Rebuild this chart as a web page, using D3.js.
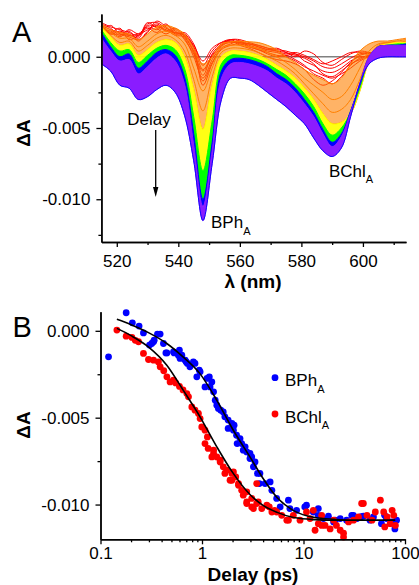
<!DOCTYPE html>
<html>
<head>
<meta charset="utf-8">
<script src="https://d3js.org/d3.v7.min.js"></script>
<style>
  body { margin: 0; background: #fff; }
  text { font-family: "Liberation Sans", Arial, Helvetica, sans-serif; }
</style>
</head>
<body>
<script>
/* ***************************************************************** */
/* DATA ************************************************************ */
// panel A : transient spectra, values in mOD (x 1e-3 dA)
var lambda = [515,518,521,524,527,530,533,536,539,542,545,548,551,554,557,560,563,
              566,569,572,575,578,581,584,587,590,593,596,599,602,605,608,611,614];

// early delays : individual red traces
var redTraces = [
  [2.0,1.6,1.8,1.5,1.4,2.4,2.0,1.6,1.9,1.2,0.2,-1.0,0.0,0.8,1.0,1.0,0.8,0.6,0.4,0.3,0.1,0.2,-0.3,-0.6,-1.0,-1.1,-0.8,-0.3,0.0,0.0,0.2,0.1,0.2,0.3],
  [2.3,2.0,1.5,1.9,1.6,1.9,2.3,1.8,1.7,1.5,0.6,-2.0,-0.5,0.6,0.9,1.1,0.7,0.5,0.2,0.0,0.1,-0.2,-0.6,-1.2,-1.5,-1.9,-1.4,-0.6,-0.1,0.1,0.3,0.2,0.1,0.2],
  [1.8,2.2,1.6,1.4,1.2,1.7,2.5,2.1,1.6,1.7,0.9,-0.6,0.4,1.0,1.2,0.9,0.9,0.7,0.5,0.4,0.3,0.0,0.4,0.2,-0.4,-0.6,-0.2,0.2,0.4,0.3,0.1,0.4,0.3,0.1],
  [2.1,1.7,2.0,1.2,1.5,2.0,1.7,2.2,1.8,1.3,0.0,-1.5,-0.2,0.7,1.1,0.8,0.6,0.3,0.0,-0.2,-0.3,-0.5,-0.9,-1.6,-2.0,-1.7,-1.1,-0.4,0.1,0.2,0.0,0.2,0.3,0.2],
  [2.2,1.9,1.7,1.6,1.3,2.2,2.1,1.9,1.5,1.4,0.4,-1.3,0.2,0.9,1.2,1.2,1.0,0.8,0.6,0.5,0.4,0.2,0.0,-0.3,-0.7,-0.8,-0.5,-0.1,0.2,0.3,0.2,0.3,0.2,0.1],
  [2.4,2.1,1.9,1.7,1.5,2.3,2.4,2.0,1.7,1.5,0.8,-0.3,0.6,1.0,1.1,1.0,0.9,0.7,0.5,0.6,0.3,0.1,-0.1,-0.5,-1.2,-1.4,-1.0,-0.5,-0.2,0.1,0.2,0.3,0.1,0.2],
  [1.9,1.8,1.4,1.8,1.1,1.8,2.2,1.8,2.0,1.4,0.3,-1.7,-0.4,0.5,0.8,0.9,0.7,0.5,0.3,0.1,0.0,-0.3,-0.7,-1.0,-1.3,-1.5,-1.2,-0.8,-0.3,0.0,0.1,0.2,0.3,0.3],
  [2.2,1.6,1.6,1.5,1.6,2.1,1.9,2.3,1.6,1.6,0.7,-0.9,0.1,0.8,1.2,1.1,0.9,0.8,0.6,0.4,0.2,0.3,0.1,-0.2,-0.5,-0.3,0.0,0.3,0.3,0.2,0.3,0.1,0.2,0.2]
];

// orange traces visible inside the bleach dips
var orangeTraces = [
  [2.2,1.7,1.3,1.3,0.7,1.1,1.6,1.8,1.5,0.9,-0.8,-2.4,-0.8,0.6,0.8,0.8,0.7,0.6,0.3,0.0,-0.4,-0.9,-1.5,-2.0,-2.5,-3.0,-2.8,-2.0,-0.8,0.4,0.9,1.0,1.1,1.2],
  [2.1,1.5,1.0,1.1,0.4,0.8,1.3,1.5,1.2,0.4,-1.6,-3.8,-1.4,0.3,0.6,0.6,0.5,0.3,0.0,-0.3,-0.7,-1.2,-1.9,-2.6,-3.3,-3.9,-3.7,-3.0,-1.6,0.0,0.8,1.0,1.0,1.1]
];

// later delays : envelopes of the colour bundles (band edges)
var orangeTop = [2.3,1.9,1.7,1.6,1.2,1.6,2.1,2.2,2.0,1.6,0.6,-0.5,0.0,0.9,1.05,1.1,1.05,1.0,0.8,0.5,0.0,-0.4,-0.9,-1.3,-1.6,-1.9,-1.5,-0.5,0.4,0.9,1.1,1.1,1.2,1.3];
var orangeBot = [2.1,1.4,0.8,0.9,0.1,0.5,1.0,1.2,1.0,0.0,-2.3,-5.1,-2.0,0.0,0.4,0.4,0.3,0.1,-0.2,-0.6,-1.0,-1.5,-2.2,-3.0,-4.0,-4.7,-4.6,-4.0,-2.4,-0.3,0.7,0.9,1.0,1.0];
var yellowBot = [1.9,1.0,0.4,0.5,-0.4,0.1,0.6,0.8,0.5,-0.8,-4.2,-8.0,-4.5,-0.5,0.1,0.1,0.0,-0.2,-0.5,-0.9,-1.3,-1.9,-2.6,-3.5,-4.7,-5.5,-5.0,-3.9,-2.2,-0.2,0.7,0.8,0.9,0.9];
var greenBot  = [1.7,0.7,0.0,0.2,-0.8,-0.3,0.3,0.5,0.1,-1.4,-5.4,-10.0,-6.0,-1.0,-0.2,-0.1,-0.2,-0.4,-0.7,-1.2,-1.6,-2.2,-3.0,-3.9,-5.1,-6.0,-5.4,-3.8,-2.0,-0.1,0.7,0.8,0.8,0.9];
var blueBot   = [1.3,0.4,-0.3,-0.2,-1.2,-0.7,-0.1,0.2,-0.3,-1.9,-6.2,-10.5,-6.6,-1.5,-0.5,-0.4,-0.5,-0.7,-1.0,-1.5,-1.9,-2.5,-3.3,-4.2,-5.4,-6.3,-5.6,-3.9,-1.9,0.0,0.7,0.8,0.8,0.8];
var violetBot = [-0.5,-1.0,-2.0,-2.2,-3.0,-2.8,-2.3,-2.0,-2.5,-4.1,-7.3,-11.5,-7.5,-3.0,-1.5,-1.5,-1.6,-2.0,-2.5,-3.0,-3.5,-4.1,-4.7,-5.7,-6.6,-7.0,-6.4,-4.2,-1.9,-0.5,-0.1,0.0,0.0,0.0];

var xTicksA = [520,540,560,580,600],  xMinorA = [530,550,570,590,610];
var yTicksA = [0,-0.005,-0.010],      yMinorA = [0.0025,-0.0025,-0.0075,-0.0125];

// panel B : kinetics, delay (ps) / dA (mOD)
var bphDelay = [0.120,0.179,0.206,0.240,0.265,0.304,0.320,0.333,0.338,0.364,0.387,0.417,0.441,0.451,0.524,0.531,0.585,0.599,0.608,0.633,
  0.682,0.700,0.719,0.760,0.822,0.853,0.889,0.940,0.958,1.07,1.12,1.18,1.20,1.25,1.30,1.35,1.40,1.45,1.53,1.62,
  1.68,1.81,1.81,1.97,2.04,2.07,2.19,2.22,2.37,2.46,2.55,2.66,2.76,2.97,2.97,3.09,3.21,3.33,3.52,3.67,
  3.72,4.18,4.69,4.88,5.44,5.89,7.10,7.34,8.55,10.3,10.7,12.5,14.0,14.0,15.7,17.6,19.8,20.5,23.0,26.6,
  29.9,31.0,33.6,37.0,38.9,45.2,48.9,58.6,63.0,65.7,73.7,79.5,79.5,82.6];
var bphDA = [-1.50,1.04,0.46,0.27,-0.12,-0.82,-0.73,-0.63,-0.54,-0.19,-0.19,-0.73,-1.27,-1.27,-1.21,-1.27,-1.40,-1.11,-1.59,-1.40,
  -1.69,-1.79,-1.88,-2.07,-1.79,-1.88,-2.65,-2.26,-2.36,-3.23,-2.74,-2.65,-3.23,-2.94,-3.51,-3.99,-4.28,-4.47,-4.57,-4.67,
  -4.95,-5.14,-5.62,-5.33,-5.72,-5.43,-6.01,-6.49,-6.20,-6.49,-6.87,-6.68,-6.97,-7.06,-7.35,-7.26,-7.83,-7.55,-8.21,-8.79,
  -8.21,-8.79,-8.70,-9.18,-9.65,-10.14,-9.75,-10.23,-10.33,-10.14,-10.04,-10.43,-10.23,-10.62,-10.81,-10.67,-11.0,-10.9,-10.81,-10.9,
  -10.62,-10.62,-10.81,-10.7,-10.67,-10.9,-10.71,-11.1,-10.62,-10.81,-11.0,-11.2,-11.4,-10.9];

var bchlDelay = [0.145,0.179,0.204,0.220,0.237,0.265,0.297,0.333,0.372,0.387,0.420,0.451,0.485,0.524,0.550,0.600,0.650,0.709,0.736,0.794,
  0.853,0.922,0.958,0.995,1.07,1.07,1.13,1.15,1.25,1.30,1.30,1.40,1.51,1.51,1.62,1.68,1.75,1.89,1.97,1.97,
  2.04,2.15,2.29,2.29,2.46,2.55,2.76,2.76,2.76,3.09,3.09,3.21,3.46,3.46,3.58,3.88,4.35,4.60,4.88,5.20,
  5.44,6.10,6.85,7.10,7.94,9.24,10.7,11.6,12.5,13.0,14.0,15.1,15.1,16.3,18.3,19.8,21.1,23.0,24.8,24.8,
  27.8,31.1,34.8,37.4,38.9,42.2,47.3,51.0,57.2,61.7,63.2,66.7,71.3,74.7,77.5,80.4];
var bchlDA = [0.04,-0.31,-0.38,-0.55,-0.63,-1.30,-1.65,-1.69,-1.79,-2.07,-2.30,-2.65,-2.94,-2.84,-3.00,-3.20,-3.40,-3.61,-3.80,-4.38,
  -4.57,-4.76,-5.05,-5.53,-5.72,-6.49,-6.11,-6.77,-7.26,-6.87,-7.06,-7.26,-7.45,-7.55,-7.83,-8.21,-8.02,-8.60,-8.21,-8.60,
  -8.12,-8.41,-8.79,-8.89,-9.18,-9.46,-9.27,-9.94,-9.85,-9.65,-10.14,-10.23,-8.79,-9.94,-9.85,-10.23,-10.04,-10.14,-10.43,-10.33,
  -10.43,-10.62,-10.9,-10.9,-10.62,-10.9,-10.43,-10.81,-10.33,-11.48,-11.1,-10.62,-11.2,-11.2,-11.4,-10.9,-11.2,-11.48,-11.87,-11.65,
  -11.0,-10.9,-10.71,-9.94,-9.94,-10.62,-10.9,-10.43,-9.75,-10.43,-11.29,-10.71,-11.1,-10.33,-10.62,-11.2];

// fitted curves
var fitDelay = [0.145,0.2,0.3,0.45,0.65,0.95,1.4,2.0,3.0,4.0,5.5,8,13,20,30,50,80];
var bphFit   = [0.66,0.35,-0.12,-0.73,-1.50,-2.45,-4.0,-5.65,-7.3,-8.5,-9.6,-10.35,-10.75,-10.85,-10.9,-10.9,-10.9];
var bchlFit  = [0.14,-0.28,-0.95,-1.98,-3.40,-4.92,-6.68,-8.15,-9.45,-10.05,-10.45,-10.75,-10.87,-10.9,-10.9,-10.9,-10.9];

var xTicksB = [0.1,1,10,100];
var xMinorB = [0.2,0.3,0.4,0.5,0.6,0.7,0.8,0.9,2,3,4,5,6,7,8,9,20,30,40,50,60,70,80,90];
var yTicksB = [0,-0.005,-0.010],  yMinorB = [-0.0025,-0.0075];

/* ***************************************************************** */
/* SVG INIT ******************************************************** */
var svg = d3.select("body").append("svg")
    .attr("width", 419)
    .attr("height", 585);

var FONT = '"Liberation Sans", Arial, Helvetica, sans-serif';
var fmt3 = function(d){ return d3.format(".3f")(d).replace("\u2212","-"); };

function styleAxis(g){
  g.attr("font-size", 17).attr("font-family", FONT);
  g.selectAll("path.domain").attr("stroke-width", 1.4).attr("stroke", "#000");
  g.selectAll(".tick line").attr("stroke-width", 1.3).attr("stroke", "#000");
  g.selectAll(".tick text").attr("fill", "#000");
}

/* ***************************************************************** */
/* PANEL A ********************************************************* */
var xA = d3.scaleLinear().domain([515, 614]).range([101.4, 406]);
var yA = d3.scaleLinear().domain([-0.013, 0.003]).range([242, 14]);
var gA = svg.append("g");

gA.append("line")
    .attr("x1", xA(515)).attr("x2", xA(614))
    .attr("y1", yA(0)).attr("y2", yA(0))
    .attr("stroke", "#808080").attr("stroke-width", 1.3);

var curveA = d3.curveCatmullRom.alpha(0.5);
var lineA = d3.line()
    .x(function(d,i){ return xA(lambda[i]); })
    .y(function(d){ return yA(d*1e-3); })
    .curve(curveA);
var areaA = d3.area()
    .x(function(d,i){ return xA(lambda[i]); })
    .y0(function(d){ return yA(d[1]*1e-3); })
    .y1(function(d){ return yA(d[0]*1e-3); })
    .curve(curveA);

gA.selectAll("path.red").data(redTraces).enter().append("path")
    .attr("class", "red")
    .attr("d", lineA)
    .attr("fill", "none").attr("stroke", "#ff0000").attr("stroke-width", 1);

var bands = [
  {c: "#ff8000", op: 0.6,  top: orangeTop, bot: orangeBot},
  {c: "#ffff00", op: 0.92, top: orangeBot, bot: yellowBot},
  {c: "#00ff00", op: 1,    top: yellowBot, bot: greenBot},
  {c: "#0000ff", op: 1,    top: greenBot,  bot: blueBot},
  {c: "#8a1cff", op: 1,    top: blueBot,   bot: violetBot}
];
bands.forEach(function(b, k){
  gA.append("path")
    .attr("d", areaA(d3.zip(b.top, b.bot)))
    .attr("fill", b.c).attr("fill-opacity", b.op).attr("stroke", "none");
  [b.top, b.bot].forEach(function(edge){
    gA.append("path").attr("d", lineA(edge))
      .attr("fill", "none").attr("stroke", b.c).attr("stroke-width", 1);
  });
  if (k === 0) {
    gA.selectAll("path.orange").data(orangeTraces).enter().append("path")
      .attr("class", "orange")
      .attr("d", lineA)
      .attr("fill", "none").attr("stroke", b.c).attr("stroke-width", 1);
  }
});
gA.append("path")
    .attr("d", lineA(violetBot))
    .attr("fill", "none").attr("stroke", "#0000ff").attr("stroke-width", 0.9);

// axes
gA.append("g").attr("transform", "translate(0,242)")
    .call(d3.axisBottom(xA).tickValues(xMinorA).tickSize(3).tickSizeOuter(0).tickFormat(""))
    .call(styleAxis);
gA.append("g").attr("transform", "translate(0,242)")
    .call(d3.axisBottom(xA).tickValues(xTicksA).tickSize(5).tickSizeOuter(0).tickPadding(8).tickFormat(d3.format("d")))
    .call(styleAxis);
gA.append("g").attr("transform", "translate(" + xA(515) + ",0)")
    .call(d3.axisLeft(yA).tickValues(yMinorA).tickSize(3).tickSizeOuter(0).tickFormat(""))
    .call(styleAxis);
gA.append("g").attr("transform", "translate(" + xA(515) + ",0)")
    .call(d3.axisLeft(yA).tickValues(yTicksA).tickSize(5).tickSizeOuter(0).tickPadding(6).tickFormat(fmt3))
    .call(styleAxis);

// labels
svg.append("text").attr("x", 12).attr("y", 41.5).attr("font-size", 29).text("A");
svg.append("text").attr("transform", "translate(30,133) rotate(-90)")
    .attr("text-anchor", "middle").attr("font-size", 19).attr("font-weight", "bold").text("\u0394A");
svg.append("text").attr("x", 253).attr("y", 288).attr("text-anchor", "middle")
    .attr("font-size", 19).attr("font-weight", "bold").text("\u03bb (nm)");

svg.append("text").attr("x", 149).attr("y", 125).attr("text-anchor", "middle")
    .attr("font-size", 17).text("Delay");
svg.append("line").attr("x1", 155.7).attr("x2", 155.7).attr("y1", 130).attr("y2", 189)
    .attr("stroke", "#000").attr("stroke-width", 1.3);
svg.append("path").attr("d", "M153,187L158.4,187L155.7,197Z").attr("fill", "#000");

var t1 = svg.append("text").attr("x", 211).attr("y", 228).attr("font-size", 17).text("BPh");
t1.append("tspan").attr("font-size", 11).attr("dy", 6.5).text("A");
var t2 = svg.append("text").attr("x", 329).attr("y", 176.5).attr("font-size", 17).text("BChl");
t2.append("tspan").attr("font-size", 11).attr("dy", 6.5).text("A");

/* ***************************************************************** */
/* PANEL B ********************************************************* */
var xB = d3.scaleLog().domain([0.1, 100]).range([100.5, 405]);
var yB = d3.scaleLinear().domain([-0.012, 0.0011]).range([539.3, 311.7]);
var gB = svg.append("g");

gB.selectAll("circle.bph").data(d3.zip(bphDelay, bphDA)).enter().append("circle")
    .attr("class", "bph")
    .attr("cx", function(d){ return xB(d[0]); })
    .attr("cy", function(d){ return yB(d[1]*1e-3); })
    .attr("r", 3.4).attr("fill", "#0000ff");
gB.selectAll("circle.bchl").data(d3.zip(bchlDelay, bchlDA)).enter().append("circle")
    .attr("class", "bchl")
    .attr("cx", function(d){ return xB(d[0]); })
    .attr("cy", function(d){ return yB(d[1]*1e-3); })
    .attr("r", 3.4).attr("fill", "#ff0000");

var fitLine = d3.line()
    .x(function(d){ return xB(d[0]); })
    .y(function(d){ return yB(d[1]*1e-3); })
    .curve(d3.curveMonotoneX);
[bphFit, bchlFit].forEach(function(f){
  gB.append("path").attr("d", fitLine(d3.zip(fitDelay, f)))
    .attr("fill", "none").attr("stroke", "#000").attr("stroke-width", 1.6);
});

gB.append("g").attr("transform", "translate(0,539.3)")
    .call(d3.axisBottom(xB).tickValues(xMinorB).tickSize(3).tickSizeOuter(0).tickFormat(""))
    .call(styleAxis);
gB.append("g").attr("transform", "translate(0,539.3)")
    .call(d3.axisBottom(xB).tickValues(xTicksB).tickSize(5).tickSizeOuter(0).tickPadding(3).tickFormat(function(d){ return String(d); }))
    .call(styleAxis);
gB.append("g").attr("transform", "translate(100.5,0)")
    .call(d3.axisLeft(yB).tickValues(yMinorB).tickSize(3).tickSizeOuter(0).tickFormat(""))
    .call(styleAxis);
gB.append("g").attr("transform", "translate(100.5,0)")
    .call(d3.axisLeft(yB).tickValues(yTicksB).tickSize(5).tickSizeOuter(0).tickPadding(6).tickFormat(fmt3))
    .call(styleAxis);

svg.append("text").attr("x", 12.5).attr("y", 337).attr("font-size", 29).text("B");
svg.append("text").attr("transform", "translate(30,425) rotate(-90)")
    .attr("text-anchor", "middle").attr("font-size", 19).attr("font-weight", "bold").text("\u0394A");
svg.append("text").attr("x", 253).attr("y", 580.5).attr("text-anchor", "middle")
    .attr("font-size", 19).attr("font-weight", "bold").text("Delay (ps)");

// legend
svg.append("circle").attr("cx", 275).attr("cy", 377.7).attr("r", 3.4).attr("fill", "#0000ff");
svg.append("circle").attr("cx", 275).attr("cy", 414).attr("r", 3.4).attr("fill", "#ff0000");
var l1 = svg.append("text").attr("x", 285).attr("y", 386).attr("font-size", 17).text("BPh");
l1.append("tspan").attr("font-size", 11).attr("dy", 6.5).text("A");
var l2 = svg.append("text").attr("x", 285).attr("y", 422.5).attr("font-size", 17).text("BChl");
l2.append("tspan").attr("font-size", 11).attr("dy", 6.5).text("A");
</script>
</body>
</html>
